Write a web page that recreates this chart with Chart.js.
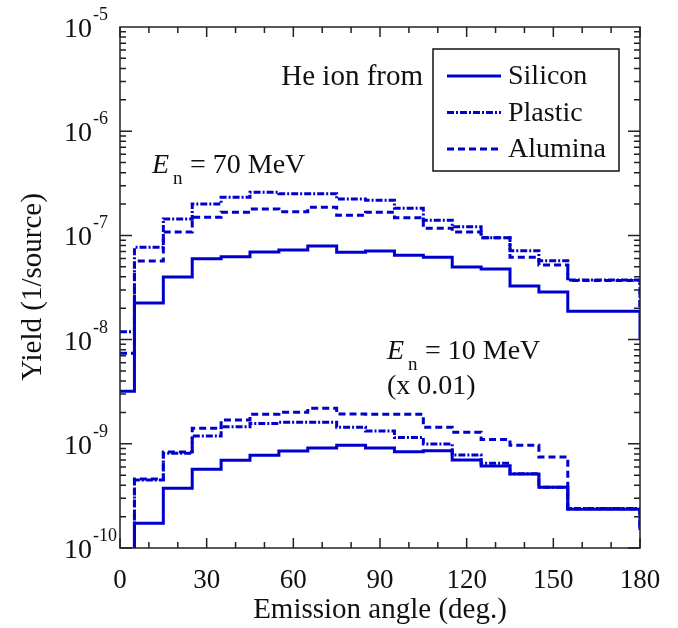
<!DOCTYPE html>
<html>
<head>
<meta charset="utf-8">
<script src="https://cdn.jsdelivr.net/npm/chart.js@4"></script>
<style>
  html, body { margin: 0; padding: 0; background: #fff; }
  #wrap { width: 678px; height: 628px; }
</style>
</head>
<body>
<div id="wrap"><canvas id="yieldChart"></canvas></div>
<script>
// bin edges (deg.), last value of each series = level the step drops to at 180
const binEdges = [0, 5, 15, 25, 35, 45, 55, 65, 75, 85, 95, 105, 115, 125, 135, 145, 155, 180];

// En = 70 MeV
const silicon70 = [3.2e-9, 2.24e-8, 3.99e-8, 5.97e-8, 6.25e-8, 6.93e-8, 7.24e-8, 7.91e-8, 6.89e-8, 7.09e-8, 6.44e-8, 6.17e-8, 4.98e-8, 4.76e-8, 3.27e-8, 2.86e-8, 1.87e-8, 1.0e-8];
const plastic70 = [1.19e-8, 7.69e-8, 1.44e-7, 2.0e-7, 2.32e-7, 2.59e-7, 2.51e-7, 2.51e-7, 2.23e-7, 2.17e-7, 1.82e-7, 1.4e-7, 1.21e-7, 9.5e-8, 7.13e-8, 5.71e-8, 3.73e-8, 2.0e-8];
const alumina70 = [7.4e-9, 5.68e-8, 1.08e-7, 1.49e-7, 1.67e-7, 1.79e-7, 1.69e-7, 1.86e-7, 1.56e-7, 1.67e-7, 1.48e-7, 1.17e-7, 1.08e-7, 9.5e-8, 6.17e-8, 5.2e-8, 3.7e-8, 2.0e-8];

// En = 10 MeV (x 0.01)
const silicon10 = [8e-11, 1.73e-10, 3.74e-10, 5.69e-10, 6.95e-10, 7.76e-10, 8.53e-10, 9.12e-10, 9.68e-10, 9.12e-10, 8.4e-10, 8.59e-10, 7.0e-10, 6.13e-10, 5.13e-10, 3.83e-10, 2.35e-10, 1.49e-10];
const plastic10 = [8e-11, 4.5e-10, 8.11e-10, 1.19e-9, 1.46e-9, 1.57e-9, 1.61e-9, 1.61e-9, 1.44e-9, 1.33e-9, 1.15e-9, 9.95e-10, 7.81e-10, 6.5e-10, 5.16e-10, 3.83e-10, 2.4e-10, 1.5e-10];
const alumina10 = [8e-11, 4.6e-10, 8.34e-10, 1.41e-9, 1.69e-9, 1.92e-9, 2.01e-9, 2.19e-9, 1.93e-9, 1.92e-9, 1.92e-9, 1.44e-9, 1.29e-9, 1.1e-9, 9.68e-10, 7.46e-10, 2.38e-10, 1.5e-10];

const xTickLabels = [0, 30, 60, 90, 120, 150, 180];
const yDecades = [-10, -9, -8, -7, -6, -5];
const legendNames = ['Silicon', 'Plastic', 'Alumina'];

const BLUE = '#0000cc';
const SERIF = '"Liberation Serif", "Times New Roman", serif';
const styles = {
    Silicon: [],
    Plastic: [7, 2, 2, 2],
    Alumina: [7, 4]
};

function toPoints(vals) {
    return binEdges.map((x, i) => ({ x: x, y: vals[i] }));
}

function histo(name, vals) {
    return {
        label: name,
        data: toPoints(vals),
        borderColor: BLUE,
        borderWidth: 3,
        borderDash: styles[name],
        stepped: true,
        pointRadius: 0,
        fill: false
    };
}

// frame, inward ticks, tick labels, legend box and annotations
const frameAndText = {
    id: 'frameAndText',
    afterDraw(chart) {
        const { ctx, chartArea: a, scales: { x, y } } = chart;
        ctx.save();

        ctx.strokeStyle = '#222';
        ctx.lineWidth = 1.5;
        ctx.strokeRect(a.left, a.top, a.right - a.left, a.bottom - a.top);

        ctx.beginPath();
        for (let v = 0; v <= 180; v += 10) {
            const px = x.getPixelForValue(v);
            const len = v % 30 === 0 ? 10 : 6;
            ctx.moveTo(px, a.bottom); ctx.lineTo(px, a.bottom - len);
            ctx.moveTo(px, a.top); ctx.lineTo(px, a.top + len);
        }
        for (let e = yDecades[0]; e < yDecades[yDecades.length - 1]; e++) {
            for (let m = 1; m <= 9; m++) {
                const py = y.getPixelForValue(m * Math.pow(10, e));
                const len = m === 1 ? 12 : 6;
                ctx.moveTo(a.left, py); ctx.lineTo(a.left + len, py);
                ctx.moveTo(a.right, py); ctx.lineTo(a.right - len, py);
            }
        }
        ctx.stroke();

        ctx.fillStyle = '#111';
        ctx.font = '27px ' + SERIF;
        ctx.textAlign = 'center';
        ctx.textBaseline = 'alphabetic';
        xTickLabels.forEach(v => ctx.fillText(String(v), x.getPixelForValue(v), 588));
        ctx.font = '29px ' + SERIF;
        ctx.fillText('Emission angle (deg.)', (a.left + a.right) / 2, 618);

        yDecades.forEach(e => {
            const py = y.getPixelForValue(Math.pow(10, e));
            ctx.font = '28px ' + SERIF;
            ctx.textAlign = 'right';
            ctx.fillText('10', 92, py + 10);
            ctx.font = '18px ' + SERIF;
            ctx.textAlign = 'left';
            ctx.fillText(String(e), 93, py - 7);
        });

        ctx.save();
        ctx.translate(33, 287);
        ctx.rotate(-Math.PI / 2);
        ctx.font = '29px ' + SERIF;
        ctx.textAlign = 'center';
        ctx.textBaseline = 'middle';
        ctx.fillText('Yield (1/source)', 0, 0);
        ctx.restore();

        // legend
        ctx.strokeStyle = '#111';
        ctx.lineWidth = 1.5;
        ctx.strokeRect(433, 49, 186, 122);
        ctx.font = '29px ' + SERIF;
        ctx.textAlign = 'right';
        ctx.textBaseline = 'middle';
        ctx.fillText('He ion from', 423, 77);
        ctx.font = '28px ' + SERIF;
        ctx.textAlign = 'left';
        legendNames.forEach((name, i) => {
            const ly = 76 + i * 36.5;
            ctx.strokeStyle = BLUE;
            ctx.lineWidth = 3;
            ctx.setLineDash(styles[name]);
            ctx.beginPath();
            ctx.moveTo(447, ly); ctx.lineTo(501, ly);
            ctx.stroke();
            ctx.setLineDash([]);
            ctx.fillText(name, 508, ly + 1);
        });

        // beam energy labels
        ctx.textBaseline = 'alphabetic';
        const energyLabel = (x0, base, text) => {
            ctx.font = 'italic 28px ' + SERIF;
            ctx.fillText('E', x0, base);
            ctx.font = '19px ' + SERIF;
            ctx.fillText('n', x0 + 21, base + 11);
            ctx.font = '28px ' + SERIF;
            ctx.fillText(text, x0 + 38, base);
        };
        energyLabel(152, 173, '= 70 MeV');
        energyLabel(387, 359, '= 10 MeV');
        ctx.font = '28px ' + SERIF;
        ctx.fillText('(x 0.01)', 387, 394);

        ctx.restore();
    }
};

const chart = new Chart(document.getElementById('yieldChart'), {
    type: 'line',
    data: {
        datasets: [
            histo('Silicon', silicon70),
            histo('Plastic', plastic70),
            histo('Alumina', alumina70),
            histo('Silicon', silicon10),
            histo('Plastic', plastic10),
            histo('Alumina', alumina10)
        ]
    },
    options: {
        responsive: true,
        maintainAspectRatio: false,
        animation: false,
        layout: { padding: { left: 120, top: 27, right: 38, bottom: 80 } },
        plugins: { legend: { display: false }, tooltip: { enabled: false } },
        scales: {
            x: { type: 'linear', min: 0, max: 180, display: false },
            y: { type: 'logarithmic', min: 1e-10, max: 1e-5, display: false }
        }
    },
    plugins: [frameAndText]
});
</script>
</body>
</html>
